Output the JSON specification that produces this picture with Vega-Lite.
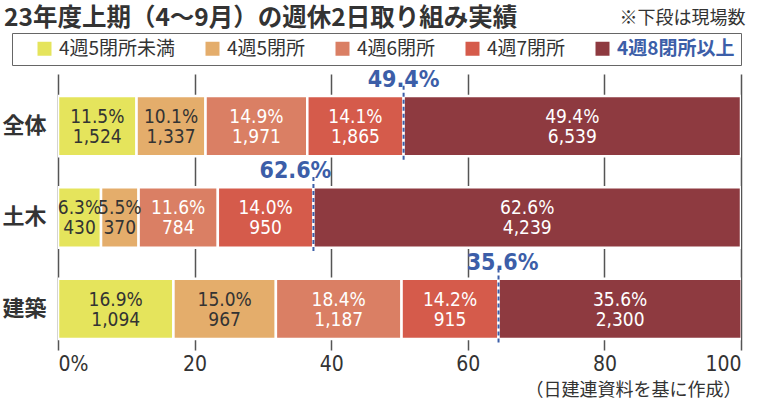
{
  "$schema": "https://vega.github.io/schema/vega-lite/v6.json",
  "width": 683,
  "height": 276,
  "autosize": {"type": "none"},
  "padding": {"left": 58, "top": 74, "right": 19, "bottom": 49},
  "background": "white",
  "config": {
    "view": {"stroke": null},
    "font": "'DejaVu Sans Condensed', 'Noto Sans CJK JP', sans-serif"
  },
  "title": {
    "text": "23年度上期（4〜9月）の週休2日取り組み実績",
    "anchor": "start",
    "frame": "group",
    "fontSize": 24.5,
    "fontWeight": "bold",
    "color": "#333333",
    "font": "'Noto Sans CJK JP'",
    "dx": -54,
    "offset": -22
  },
  "data": {
    "values": [
      {"cat": "全体", "k": 1, "seg": "4週5閉所未満", "pct": 11.5, "n": 1524},
      {"cat": "全体", "k": 2, "seg": "4週5閉所", "pct": 10.1, "n": 1337},
      {"cat": "全体", "k": 3, "seg": "4週6閉所", "pct": 14.9, "n": 1971},
      {"cat": "全体", "k": 4, "seg": "4週7閉所", "pct": 14.1, "n": 1865},
      {"cat": "全体", "k": 5, "seg": "4週8閉所以上", "pct": 49.4, "n": 6539},
      {"cat": "土木", "k": 1, "seg": "4週5閉所未満", "pct": 6.3, "n": 430},
      {"cat": "土木", "k": 2, "seg": "4週5閉所", "pct": 5.5, "n": 370},
      {"cat": "土木", "k": 3, "seg": "4週6閉所", "pct": 11.6, "n": 784},
      {"cat": "土木", "k": 4, "seg": "4週7閉所", "pct": 14.0, "n": 950},
      {"cat": "土木", "k": 5, "seg": "4週8閉所以上", "pct": 62.6, "n": 4239},
      {"cat": "建築", "k": 1, "seg": "4週5閉所未満", "pct": 16.9, "n": 1094},
      {"cat": "建築", "k": 2, "seg": "4週5閉所", "pct": 15.0, "n": 967},
      {"cat": "建築", "k": 3, "seg": "4週6閉所", "pct": 18.4, "n": 1187},
      {"cat": "建築", "k": 4, "seg": "4週7閉所", "pct": 14.2, "n": 915},
      {"cat": "建築", "k": 5, "seg": "4週8閉所以上", "pct": 35.6, "n": 2300}
    ]
  },
  "transform": [
    {"stack": "pct", "groupby": ["cat"], "sort": [{"field": "k", "order": "ascending"}], "as": ["x0", "x1"]},
    {"calculate": "(datum.x0 + datum.x1) / 2", "as": "mid"},
    {"calculate": "format(datum.pct, '.1f') + '%\\n' + format(datum.n, ',')", "as": "lab"},
    {"calculate": "format(datum.pct, '.1f') + '%'", "as": "plab"}
  ],
  "encoding": {
    "y": {
      "field": "cat",
      "type": "nominal",
      "sort": ["全体", "土木", "建築"],
      "scale": {"paddingInner": 0.34, "paddingOuter": 0.18, "align": 0.667},
      "axis": {
        "domain": false,
        "ticks": false,
        "labelFontSize": 22,
        "labelFontWeight": "bold",
        "labelFont": "'Noto Sans CJK JP'",
        "labelColor": "#333333",
        "labelPadding": 12,
        "title": "※下段は現場数",
        "titleAngle": 0,
        "titleX": 687,
        "titleY": -56,
        "titleAlign": "right",
        "titleBaseline": "middle",
        "titleFontWeight": "normal",
        "titleFontSize": 18,
        "titleFont": "'Noto Sans CJK JP'",
        "titleColor": "#333333"
      }
    }
  },
  "layer": [
    {
      "mark": {"type": "bar", "stroke": "white", "strokeWidth": 2.5, "clip": true},
      "encoding": {
        "x": {
          "field": "x0",
          "type": "quantitative",
          "scale": {"domain": [0, 100], "nice": false},
          "axis": {
            "values": [0, 20, 40, 60, 80, 100],
            "labelExpr": "datum.value == 0 ? '0%' : datum.label",
            "labelFontSize": 21,
            "labelColor": "#333333",
            "labelPadding": 3,
            "ticks": false,
            "domain": false,
            "grid": true,
            "gridColor": "#555555",
            "gridWidth": 1.5,
            "title": "（日建連資料を基に作成）",
            "titleAnchor": "end",
            "titleFontSize": 18,
            "titleFontWeight": "normal",
            "titleFont": "'Noto Sans CJK JP'",
            "titleColor": "#333333",
            "titlePadding": 7
          }
        },
        "x2": {"field": "x1"},
        "color": {
          "field": "seg",
          "type": "nominal",
          "scale": {
            "domain": ["4週5閉所未満", "4週5閉所", "4週6閉所", "4週7閉所", "4週8閉所以上"],
            "range": ["#e5e45c", "#e4ad6b", "#da7f64", "#d55b4b", "#8e3a40"]
          },
          "legend": {
            "orient": "none",
            "legendX": -46,
            "legendY": -41,
            "direction": "horizontal",
            "title": " ",
            "titleOrient": "left",
            "titlePadding": 17,
            "strokeColor": "#666666",
            "padding": 6,
            "symbolType": "square",
            "symbolSize": 196,
            "symbolStrokeWidth": 0,
            "symbolOpacity": 1,
            "labelFontSize": 19,
            "labelFont": "'Noto Sans CJK JP'",
            "labelColor": {"expr": "datum.label == '4週8閉所以上' ? '#3c5ea8' : '#333333'"},
            "labelFontWeight": {"expr": "datum.label == '4週8閉所以上' ? 'bold' : 'normal'"},
            "labelOffset": 5,
            "columnPadding": 27,
            "labelLimit": 300
          }
        }
      }
    },
    {
      "mark": {"type": "text", "fontSize": 19, "lineHeight": 20, "lineBreak": "\n", "baseline": "middle", "dy": -9},
      "encoding": {
        "x": {"field": "mid", "type": "quantitative"},
        "text": {"field": "lab"},
        "color": {"condition": {"test": "datum.k >= 3", "value": "white"}, "value": "#333333"}
      }
    },
    {
      "transform": [{"filter": "datum.k == 5"}],
      "mark": {"type": "rule", "color": "#3c5ea8", "strokeWidth": 2, "strokeDash": [4, 3]},
      "encoding": {
        "x": {"field": "x0", "type": "quantitative"},
        "y": {"field": "cat", "type": "nominal", "sort": ["全体", "土木", "建築"], "bandPosition": -0.17},
        "y2": {"field": "cat", "bandPosition": 1.07}
      }
    },
    {
      "transform": [{"filter": "datum.k == 5"}],
      "mark": {
        "type": "text",
        "fontSize": 23,
        "fontWeight": "bold",
        "color": "#3c5ea8",
        "baseline": "alphabetic",
        "dy": -9,
        "dx": {"expr": "datum.cat === '土木' ? -18 : (datum.cat === '建築' ? 4 : 0)"}
      },
      "encoding": {
        "x": {"field": "x0", "type": "quantitative"},
        "y": {"field": "cat", "type": "nominal", "sort": ["全体", "土木", "建築"], "bandPosition": 0},
        "text": {"field": "plab"}
      }
    }
  ]
}
